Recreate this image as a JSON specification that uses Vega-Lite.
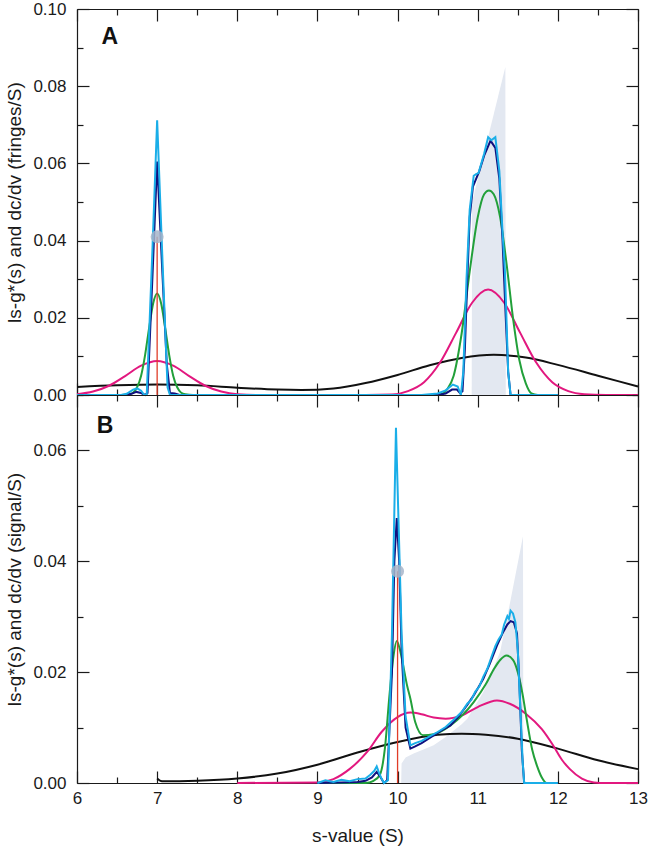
{
  "$schema": "https://vega.github.io/schema/vega-lite/v6.json",
  "padding": {"left": 5, "top": 0, "right": 0, "bottom": 5},
  "spacing": 0,
  "bounds": "flush",
  "background": "white",
  "datasets": {
    "shadeA": [{"s":10.925,"v":0},{"s":10.93,"v":0.050},{"s":11.345,"v":0.085},{"s":11.35,"v":0}],
    "shadeB": [{"s":10.045,"v":0},{"s":10.05,"v":0.0035},{"s":10.1,"v":0.0046},{"s":10.2,"v":0.0053},{"s":10.3,"v":0.0059},{"s":10.45,"v":0.0068},{"s":10.6,"v":0.0083},{"s":10.8,"v":0.0106},{"s":10.87,"v":0.0116},{"s":11.07,"v":0.0164},{"s":11.28,"v":0.0237},{"s":11.41,"v":0.033},{"s":11.565,"v":0.0445},{"s":11.57,"v":0}],
    "marks": [{"panel":"A","s":7.0,"v":0.041},{"panel":"B","s":10.0,"v":0.0382}],
    "curves": [
      {"panel":"A","series":"black","s":6.0,"v":0.0021},{"panel":"A","series":"black","s":6.5,"v":0.0025},{"panel":"A","series":"black","s":7.0,"v":0.0027},{"panel":"A","series":"black","s":7.5,"v":0.0025},{"panel":"A","series":"black","s":8.0,"v":0.0019},{"panel":"A","series":"black","s":8.5,"v":0.0014},{"panel":"A","series":"black","s":8.8,"v":0.0013},{"panel":"A","series":"black","s":9.2,"v":0.0017},{"panel":"A","series":"black","s":9.6,"v":0.0031},{"panel":"A","series":"black","s":10.0,"v":0.0052},{"panel":"A","series":"black","s":10.4,"v":0.0077},{"panel":"A","series":"black","s":10.8,"v":0.0096},{"panel":"A","series":"black","s":11.2,"v":0.0104},{"panel":"A","series":"black","s":11.6,"v":0.0097},{"panel":"A","series":"black","s":12.0,"v":0.0078},{"panel":"A","series":"black","s":12.5,"v":0.0050},{"panel":"A","series":"black","s":13.0,"v":0.0022},

      {"panel":"A","series":"magenta","s":6.0,"v":0.0002},{"panel":"A","series":"magenta","s":6.2,"v":0.0009},{"panel":"A","series":"magenta","s":6.4,"v":0.0024},{"panel":"A","series":"magenta","s":6.6,"v":0.0049},{"panel":"A","series":"magenta","s":6.8,"v":0.0076},{"panel":"A","series":"magenta","s":7.0,"v":0.0088},{"panel":"A","series":"magenta","s":7.2,"v":0.0076},{"panel":"A","series":"magenta","s":7.4,"v":0.0049},{"panel":"A","series":"magenta","s":7.6,"v":0.0024},{"panel":"A","series":"magenta","s":7.8,"v":0.0009},{"panel":"A","series":"magenta","s":8.0,"v":0.0002},{"panel":"A","series":"magenta","s":8.3,"v":0.0},{"panel":"A","series":"magenta","s":9.6,"v":0.0},{"panel":"A","series":"magenta","s":9.93,"v":0.0001},{"panel":"A","series":"magenta","s":10.13,"v":0.0010},{"panel":"A","series":"magenta","s":10.33,"v":0.0033},{"panel":"A","series":"magenta","s":10.53,"v":0.0084},{"panel":"A","series":"magenta","s":10.73,"v":0.0161},{"panel":"A","series":"magenta","s":10.93,"v":0.0239},{"panel":"A","series":"magenta","s":11.13,"v":0.0273},{"panel":"A","series":"magenta","s":11.33,"v":0.0239},{"panel":"A","series":"magenta","s":11.53,"v":0.0161},{"panel":"A","series":"magenta","s":11.73,"v":0.0084},{"panel":"A","series":"magenta","s":11.93,"v":0.0033},{"panel":"A","series":"magenta","s":12.13,"v":0.0010},{"panel":"A","series":"magenta","s":12.33,"v":0.0002},{"panel":"A","series":"magenta","s":12.6,"v":0.0},{"panel":"A","series":"magenta","s":13.0,"v":0.0},

      {"panel":"A","series":"green","s":6.0,"v":0},{"panel":"A","series":"green","s":6.55,"v":0},{"panel":"A","series":"green","s":6.65,"v":0.0002},{"panel":"A","series":"green","s":6.7,"v":0.0006},{"panel":"A","series":"green","s":6.75,"v":0.0020},{"panel":"A","series":"green","s":6.8,"v":0.0050},{"panel":"A","series":"green","s":6.85,"v":0.0104},{"panel":"A","series":"green","s":6.9,"v":0.0174},{"panel":"A","series":"green","s":6.95,"v":0.0237},{"panel":"A","series":"green","s":7.0,"v":0.0263},{"panel":"A","series":"green","s":7.05,"v":0.0237},{"panel":"A","series":"green","s":7.1,"v":0.0174},{"panel":"A","series":"green","s":7.15,"v":0.0104},{"panel":"A","series":"green","s":7.2,"v":0.0050},{"panel":"A","series":"green","s":7.25,"v":0.0020},{"panel":"A","series":"green","s":7.3,"v":0.0006},{"panel":"A","series":"green","s":7.35,"v":0.0002},{"panel":"A","series":"green","s":7.45,"v":0},{"panel":"A","series":"green","s":10.45,"v":0},{"panel":"A","series":"green","s":10.55,"v":0.0003},{"panel":"A","series":"green","s":10.62,"v":0.0015},{"panel":"A","series":"green","s":10.7,"v":0.005},{"panel":"A","series":"green","s":10.8,"v":0.016},{"panel":"A","series":"green","s":10.9,"v":0.032},{"panel":"A","series":"green","s":11.0,"v":0.046},{"panel":"A","series":"green","s":11.08,"v":0.052},{"panel":"A","series":"green","s":11.14,"v":0.053},{"panel":"A","series":"green","s":11.2,"v":0.052},{"panel":"A","series":"green","s":11.28,"v":0.046},{"panel":"A","series":"green","s":11.36,"v":0.034},{"panel":"A","series":"green","s":11.44,"v":0.020},{"panel":"A","series":"green","s":11.52,"v":0.009},{"panel":"A","series":"green","s":11.6,"v":0.003},{"panel":"A","series":"green","s":11.67,"v":0.0004},{"panel":"A","series":"green","s":11.75,"v":0},{"panel":"A","series":"green","s":12.0,"v":0},

      {"panel":"A","series":"navy","s":6.0,"v":0},{"panel":"A","series":"navy","s":6.6,"v":0},{"panel":"A","series":"navy","s":6.68,"v":0.0003},{"panel":"A","series":"navy","s":6.74,"v":0.0008},{"panel":"A","series":"navy","s":6.8,"v":0.0005},{"panel":"A","series":"navy","s":6.85,"v":0},{"panel":"A","series":"navy","s":6.88,"v":0.0005},{"panel":"A","series":"navy","s":6.94,"v":0.030},{"panel":"A","series":"navy","s":7.0,"v":0.0605},{"panel":"A","series":"navy","s":7.06,"v":0.034},{"panel":"A","series":"navy","s":7.12,"v":0.008},{"panel":"A","series":"navy","s":7.16,"v":0.0005},{"panel":"A","series":"navy","s":7.22,"v":0.0004},{"panel":"A","series":"navy","s":7.28,"v":0},{"panel":"A","series":"navy","s":10.5,"v":0},{"panel":"A","series":"navy","s":10.6,"v":0.0004},{"panel":"A","series":"navy","s":10.68,"v":0.0014},{"panel":"A","series":"navy","s":10.74,"v":0.0014},{"panel":"A","series":"navy","s":10.78,"v":0.0005},{"panel":"A","series":"navy","s":10.81,"v":0.001},{"panel":"A","series":"navy","s":10.84,"v":0.012},{"panel":"A","series":"navy","s":10.87,"v":0.030},{"panel":"A","series":"navy","s":10.9,"v":0.046},{"panel":"A","series":"navy","s":10.94,"v":0.054},{"panel":"A","series":"navy","s":10.98,"v":0.056},{"panel":"A","series":"navy","s":11.02,"v":0.058},{"panel":"A","series":"navy","s":11.08,"v":0.062},{"panel":"A","series":"navy","s":11.16,"v":0.0659},{"panel":"A","series":"navy","s":11.22,"v":0.064},{"panel":"A","series":"navy","s":11.27,"v":0.056},{"panel":"A","series":"navy","s":11.31,"v":0.040},{"panel":"A","series":"navy","s":11.35,"v":0.020},{"panel":"A","series":"navy","s":11.38,"v":0.006},{"panel":"A","series":"navy","s":11.41,"v":0},{"panel":"A","series":"navy","s":12.0,"v":0},

      {"panel":"A","series":"cyan","s":6.0,"v":0},{"panel":"A","series":"cyan","s":6.55,"v":0},{"panel":"A","series":"cyan","s":6.62,"v":0.0003},{"panel":"A","series":"cyan","s":6.7,"v":0.0014},{"panel":"A","series":"cyan","s":6.75,"v":0.0017},{"panel":"A","series":"cyan","s":6.8,"v":0.0011},{"panel":"A","series":"cyan","s":6.84,"v":0},{"panel":"A","series":"cyan","s":6.87,"v":0},{"panel":"A","series":"cyan","s":6.94,"v":0.037},{"panel":"A","series":"cyan","s":7.0,"v":0.0712},{"panel":"A","series":"cyan","s":7.07,"v":0.033},{"panel":"A","series":"cyan","s":7.13,"v":0.002},{"panel":"A","series":"cyan","s":7.16,"v":0},{"panel":"A","series":"cyan","s":10.3,"v":0},{"panel":"A","series":"cyan","s":10.5,"v":0.0004},{"panel":"A","series":"cyan","s":10.6,"v":0.0012},{"panel":"A","series":"cyan","s":10.69,"v":0.0027},{"panel":"A","series":"cyan","s":10.75,"v":0.0022},{"panel":"A","series":"cyan","s":10.79,"v":0},{"panel":"A","series":"cyan","s":10.82,"v":0.006},{"panel":"A","series":"cyan","s":10.86,"v":0.030},{"panel":"A","series":"cyan","s":10.9,"v":0.048},{"panel":"A","series":"cyan","s":10.95,"v":0.0568},{"panel":"A","series":"cyan","s":10.98,"v":0.0572},{"panel":"A","series":"cyan","s":11.01,"v":0.0575},{"panel":"A","series":"cyan","s":11.08,"v":0.0625},{"panel":"A","series":"cyan","s":11.13,"v":0.0668},{"panel":"A","series":"cyan","s":11.17,"v":0.066},{"panel":"A","series":"cyan","s":11.22,"v":0.0668},{"panel":"A","series":"cyan","s":11.27,"v":0.058},{"panel":"A","series":"cyan","s":11.31,"v":0.042},{"panel":"A","series":"cyan","s":11.34,"v":0.032},{"panel":"A","series":"cyan","s":11.38,"v":0.006},{"panel":"A","series":"cyan","s":11.41,"v":0},{"panel":"A","series":"cyan","s":12.0,"v":0},

      {"panel":"B","series":"black","s":7.0,"v":0.0008},{"panel":"B","series":"black","s":7.06,"v":0.0003},{"panel":"B","series":"black","s":7.5,"v":0.0004},{"panel":"B","series":"black","s":8.0,"v":0.0008},{"panel":"B","series":"black","s":8.5,"v":0.0017},{"panel":"B","series":"black","s":9.0,"v":0.0033},{"panel":"B","series":"black","s":9.5,"v":0.0055},{"panel":"B","series":"black","s":10.0,"v":0.0074},{"panel":"B","series":"black","s":10.5,"v":0.0087},{"panel":"B","series":"black","s":10.8,"v":0.0089},{"panel":"B","series":"black","s":11.1,"v":0.0087},{"panel":"B","series":"black","s":11.5,"v":0.0080},{"panel":"B","series":"black","s":12.0,"v":0.0062},{"panel":"B","series":"black","s":12.5,"v":0.0041},{"panel":"B","series":"black","s":13.0,"v":0.0025},

      {"panel":"B","series":"magenta","s":8.0,"v":0},{"panel":"B","series":"magenta","s":9.0,"v":0.0001},{"panel":"B","series":"magenta","s":9.2,"v":0.0007},{"panel":"B","series":"magenta","s":9.4,"v":0.0025},{"panel":"B","series":"magenta","s":9.62,"v":0.0056},{"panel":"B","series":"magenta","s":9.8,"v":0.0092},{"panel":"B","series":"magenta","s":10.0,"v":0.0119},{"panel":"B","series":"magenta","s":10.16,"v":0.0127},{"panel":"B","series":"magenta","s":10.3,"v":0.0124},{"panel":"B","series":"magenta","s":10.45,"v":0.0118},{"panel":"B","series":"magenta","s":10.6,"v":0.0116},{"panel":"B","series":"magenta","s":10.8,"v":0.0122},{"panel":"B","series":"magenta","s":11.0,"v":0.0137},{"panel":"B","series":"magenta","s":11.24,"v":0.0149},{"panel":"B","series":"magenta","s":11.4,"v":0.0143},{"panel":"B","series":"magenta","s":11.6,"v":0.0125},{"panel":"B","series":"magenta","s":11.8,"v":0.0097},{"panel":"B","series":"magenta","s":11.94,"v":0.0068},{"panel":"B","series":"magenta","s":12.05,"v":0.0042},{"panel":"B","series":"magenta","s":12.15,"v":0.0025},{"panel":"B","series":"magenta","s":12.3,"v":0.0008},{"panel":"B","series":"magenta","s":12.45,"v":0.0001},{"panel":"B","series":"magenta","s":12.6,"v":0},{"panel":"B","series":"magenta","s":13.0,"v":0},

      {"panel":"B","series":"green","s":9.0,"v":0},{"panel":"B","series":"green","s":9.6,"v":0},{"panel":"B","series":"green","s":9.7,"v":0.0004},{"panel":"B","series":"green","s":9.78,"v":0.0015},{"panel":"B","series":"green","s":9.84,"v":0.006},{"panel":"B","series":"green","s":9.9,"v":0.016},{"panel":"B","series":"green","s":9.95,"v":0.023},{"panel":"B","series":"green","s":9.99,"v":0.0256},{"panel":"B","series":"green","s":10.03,"v":0.024},{"panel":"B","series":"green","s":10.07,"v":0.0212},{"panel":"B","series":"green","s":10.12,"v":0.0175},{"panel":"B","series":"green","s":10.16,"v":0.0152},{"panel":"B","series":"green","s":10.22,"v":0.011},{"panel":"B","series":"green","s":10.32,"v":0.0086},{"panel":"B","series":"green","s":10.45,"v":0.0088},{"panel":"B","series":"green","s":10.66,"v":0.0104},{"panel":"B","series":"green","s":10.95,"v":0.0146},{"panel":"B","series":"green","s":11.1,"v":0.0178},{"panel":"B","series":"green","s":11.2,"v":0.0205},{"panel":"B","series":"green","s":11.28,"v":0.0222},{"panel":"B","series":"green","s":11.36,"v":0.023},{"panel":"B","series":"green","s":11.44,"v":0.0222},{"panel":"B","series":"green","s":11.5,"v":0.020},{"panel":"B","series":"green","s":11.56,"v":0.016},{"panel":"B","series":"green","s":11.61,"v":0.0116},{"panel":"B","series":"green","s":11.68,"v":0.006},{"panel":"B","series":"green","s":11.74,"v":0.0031},{"panel":"B","series":"green","s":11.8,"v":0.001},{"panel":"B","series":"green","s":11.86,"v":0},{"panel":"B","series":"green","s":12.0,"v":0},

      {"panel":"B","series":"navy","s":9.0,"v":0},{"panel":"B","series":"navy","s":9.3,"v":0.0001},{"panel":"B","series":"navy","s":9.5,"v":0.0002},{"panel":"B","series":"navy","s":9.6,"v":0.0004},{"panel":"B","series":"navy","s":9.68,"v":0.0010},{"panel":"B","series":"navy","s":9.74,"v":0.0020},{"panel":"B","series":"navy","s":9.79,"v":0.0010},{"panel":"B","series":"navy","s":9.83,"v":0},{"panel":"B","series":"navy","s":9.87,"v":0.0005},{"panel":"B","series":"navy","s":9.93,"v":0.020},{"panel":"B","series":"navy","s":9.96,"v":0.040},{"panel":"B","series":"navy","s":9.99,"v":0.0478},{"panel":"B","series":"navy","s":10.02,"v":0.040},{"panel":"B","series":"navy","s":10.05,"v":0.024},{"panel":"B","series":"navy","s":10.1,"v":0.010},{"panel":"B","series":"navy","s":10.16,"v":0.0062},{"panel":"B","series":"navy","s":10.22,"v":0.0066},{"panel":"B","series":"navy","s":10.3,"v":0.0072},{"panel":"B","series":"navy","s":10.45,"v":0.0086},{"panel":"B","series":"navy","s":10.55,"v":0.0095},{"panel":"B","series":"navy","s":10.66,"v":0.0104},{"panel":"B","series":"navy","s":10.75,"v":0.0118},{"panel":"B","series":"navy","s":10.865,"v":0.014},{"panel":"B","series":"navy","s":10.95,"v":0.0158},{"panel":"B","series":"navy","s":11.07,"v":0.0188},{"panel":"B","series":"navy","s":11.15,"v":0.0215},{"panel":"B","series":"navy","s":11.24,"v":0.0248},{"panel":"B","series":"navy","s":11.32,"v":0.0273},{"panel":"B","series":"navy","s":11.37,"v":0.0286},{"panel":"B","series":"navy","s":11.41,"v":0.0292},{"panel":"B","series":"navy","s":11.45,"v":0.029},{"panel":"B","series":"navy","s":11.49,"v":0.027},{"panel":"B","series":"navy","s":11.52,"v":0.018},{"panel":"B","series":"navy","s":11.55,"v":0.006},{"panel":"B","series":"navy","s":11.58,"v":0},{"panel":"B","series":"navy","s":12.0,"v":0},

      {"panel":"B","series":"cyan","s":9.0,"v":0},{"panel":"B","series":"cyan","s":9.1,"v":0.0005},{"panel":"B","series":"cyan","s":9.2,"v":0.0002},{"panel":"B","series":"cyan","s":9.3,"v":0.0006},{"panel":"B","series":"cyan","s":9.4,"v":0.0003},{"panel":"B","series":"cyan","s":9.5,"v":0.0007},{"panel":"B","series":"cyan","s":9.6,"v":0.0008},{"panel":"B","series":"cyan","s":9.66,"v":0.0015},{"panel":"B","series":"cyan","s":9.71,"v":0.0022},{"panel":"B","series":"cyan","s":9.74,"v":0.0030},{"panel":"B","series":"cyan","s":9.77,"v":0.0018},{"panel":"B","series":"cyan","s":9.8,"v":0.0008},{"panel":"B","series":"cyan","s":9.83,"v":0},{"panel":"B","series":"cyan","s":9.88,"v":0.0005},{"panel":"B","series":"cyan","s":9.93,"v":0.027},{"panel":"B","series":"cyan","s":9.98,"v":0.0641},{"panel":"B","series":"cyan","s":10.05,"v":0.027},{"panel":"B","series":"cyan","s":10.1,"v":0.012},{"panel":"B","series":"cyan","s":10.16,"v":0.0068},{"panel":"B","series":"cyan","s":10.22,"v":0.0072},{"panel":"B","series":"cyan","s":10.3,"v":0.0076},{"panel":"B","series":"cyan","s":10.4,"v":0.0084},{"panel":"B","series":"cyan","s":10.5,"v":0.0092},{"panel":"B","series":"cyan","s":10.6,"v":0.0101},{"panel":"B","series":"cyan","s":10.7,"v":0.0114},{"panel":"B","series":"cyan","s":10.8,"v":0.0128},{"panel":"B","series":"cyan","s":10.87,"v":0.0143},{"panel":"B","series":"cyan","s":10.92,"v":0.0150},{"panel":"B","series":"cyan","s":10.97,"v":0.0165},{"panel":"B","series":"cyan","s":11.02,"v":0.0174},{"panel":"B","series":"cyan","s":11.07,"v":0.0192},{"panel":"B","series":"cyan","s":11.12,"v":0.0206},{"panel":"B","series":"cyan","s":11.18,"v":0.0231},{"panel":"B","series":"cyan","s":11.22,"v":0.0247},{"panel":"B","series":"cyan","s":11.26,"v":0.0259},{"panel":"B","series":"cyan","s":11.3,"v":0.0268},{"panel":"B","series":"cyan","s":11.33,"v":0.0286},{"panel":"B","series":"cyan","s":11.37,"v":0.0301},{"panel":"B","series":"cyan","s":11.39,"v":0.0296},{"panel":"B","series":"cyan","s":11.41,"v":0.0311},{"panel":"B","series":"cyan","s":11.44,"v":0.0306},{"panel":"B","series":"cyan","s":11.47,"v":0.029},{"panel":"B","series":"cyan","s":11.5,"v":0.024},{"panel":"B","series":"cyan","s":11.53,"v":0.014},{"panel":"B","series":"cyan","s":11.56,"v":0.004},{"panel":"B","series":"cyan","s":11.58,"v":0},{"panel":"B","series":"cyan","s":12.0,"v":0}
    ]
  },
  "vconcat": [
    {
      "width": 561,
      "height": 386,
      "resolve": {"axis": {"x": "independent", "y": "independent"}},
      "layer": [
        {
          "data": {"name": "shadeA"},
          "mark": {"type": "area", "color": "#e3e8f1", "interpolate": "linear"},
          "encoding": {
            "x": {"field": "s", "type": "quantitative", "scale": {"domain": [6, 13]},
                  "axis": {"orient": "bottom", "values": [6,6.5,7,7.5,8,8.5,9,9.5,10,10.5,11,11.5,12,12.5,13], "labels": false, "title": null,
                           "tickSize": {"condition": {"test": "datum.value % 1 === 0", "value": -12}, "value": -6}}},
            "y": {"field": "v", "type": "quantitative", "scale": {"domain": [0, 0.1]},
                  "axis": {"orient": "left", "values": [0,0.01,0.02,0.03,0.04,0.05,0.06,0.07,0.08,0.09,0.1], "format": ".2f",
                           "labelExpr": "round(datum.value*100) % 2 === 0 ? datum.label : ''",
                           "title": "ls-g*(s) and dc/dv (fringes/S)", "titlePadding": 8, "labelPadding": 23,
                           "tickSize": {"condition": {"test": "round(datum.value*100) % 2 === 0", "value": -12}, "value": -6}}}
          }
        },
        {
          "data": {"name": "curves"},
          "transform": [{"filter": "datum.panel === 'A' && datum.series === 'black'"}],
          "mark": {"type": "line", "color": "#111111", "strokeWidth": 2, "interpolate": "monotone"},
          "encoding": {
            "x": {"field": "s", "type": "quantitative", "scale": {"domain": [6, 13]},
                  "axis": {"orient": "top", "values": [6,6.5,7,7.5,8,8.5,9,9.5,10,10.5,11,11.5,12,12.5,13], "labels": false, "title": null,
                           "tickSize": {"condition": {"test": "datum.value % 1 === 0", "value": -12}, "value": -6}}},
            "y": {"field": "v", "type": "quantitative", "scale": {"domain": [0, 0.1]},
                  "axis": {"orient": "right", "values": [0,0.01,0.02,0.03,0.04,0.05,0.06,0.07,0.08,0.09,0.1], "labels": false, "title": null,
                           "tickSize": {"condition": {"test": "round(datum.value*100) % 2 === 0", "value": -12}, "value": -6}}}
          }
        },
        {
          "data": {"name": "curves"},
          "transform": [{"filter": "datum.panel === 'A' && datum.series === 'magenta'"}],
          "mark": {"type": "line", "color": "#e2187f", "strokeWidth": 2, "interpolate": "monotone"},
          "encoding": {
            "x": {"field": "s", "type": "quantitative", "scale": {"domain": [6, 13]}, "axis": null},
            "y": {"field": "v", "type": "quantitative", "scale": {"domain": [0, 0.1]}, "axis": null}
          }
        },
        {
          "data": {"name": "curves"},
          "transform": [{"filter": "datum.panel === 'A' && datum.series === 'green'"}],
          "mark": {"type": "line", "color": "#22a03a", "strokeWidth": 2, "interpolate": "monotone"},
          "encoding": {
            "x": {"field": "s", "type": "quantitative", "scale": {"domain": [6, 13]}, "axis": null},
            "y": {"field": "v", "type": "quantitative", "scale": {"domain": [0, 0.1]}, "axis": null}
          }
        },
        {
          "data": {"name": "curves"},
          "transform": [{"filter": "datum.panel === 'A' && datum.series === 'navy'"}],
          "mark": {"type": "line", "color": "#10107e", "strokeWidth": 2, "interpolate": "linear"},
          "encoding": {
            "x": {"field": "s", "type": "quantitative", "scale": {"domain": [6, 13]}, "axis": null},
            "y": {"field": "v", "type": "quantitative", "scale": {"domain": [0, 0.1]}, "axis": null}
          }
        },
        {
          "data": {"name": "curves"},
          "transform": [{"filter": "datum.panel === 'A' && datum.series === 'cyan'"}],
          "mark": {"type": "line", "color": "#1aaee8", "strokeWidth": 2, "interpolate": "linear"},
          "encoding": {
            "x": {"field": "s", "type": "quantitative", "scale": {"domain": [6, 13]}, "axis": null},
            "y": {"field": "v", "type": "quantitative", "scale": {"domain": [0, 0.1]}, "axis": null}
          }
        },
        {
          "data": {"name": "marks"},
          "transform": [{"filter": "datum.panel === 'A'"}],
          "mark": {"type": "rule", "color": "#e03c28", "strokeWidth": 1.3},
          "encoding": {
            "x": {"field": "s", "type": "quantitative", "scale": {"domain": [6, 13]}, "axis": null},
            "y": {"field": "v", "type": "quantitative", "scale": {"domain": [0, 0.1]}, "axis": null},
            "y2": {"datum": 0}
          }
        },
        {
          "data": {"name": "marks"},
          "transform": [{"filter": "datum.panel === 'A'"}],
          "mark": {"type": "circle", "color": "#a7b5ca", "opacity": 0.85, "size": 170},
          "encoding": {
            "x": {"field": "s", "type": "quantitative", "scale": {"domain": [6, 13]}, "axis": null},
            "y": {"field": "v", "type": "quantitative", "scale": {"domain": [0, 0.1]}, "axis": null}
          }
        },
        {
          "data": {"values": [{}]},
          "mark": {"type": "text", "text": "A", "font": "Liberation Sans", "fontSize": 23, "fontWeight": "bold", "color": "#111111", "align": "center", "baseline": "middle"},
          "encoding": {
            "x": {"datum": 6.41, "type": "quantitative", "scale": {"domain": [6, 13]}, "axis": null},
            "y": {"datum": 0.0927, "type": "quantitative", "scale": {"domain": [0, 0.1]}, "axis": null}
          }
        }
      ]
    },
    {
      "width": 561,
      "height": 388,
      "resolve": {"axis": {"x": "independent", "y": "independent"}},
      "layer": [
        {
          "data": {"name": "shadeB"},
          "mark": {"type": "area", "color": "#e3e8f1", "interpolate": "linear"},
          "encoding": {
            "x": {"field": "s", "type": "quantitative", "scale": {"domain": [6, 13]},
                  "axis": {"orient": "bottom", "values": [6,6.5,7,7.5,8,8.5,9,9.5,10,10.5,11,11.5,12,12.5,13], "format": ".0f",
                           "labelExpr": "datum.value % 1 === 0 ? datum.label : ''", "labelPadding": 19,
                           "title": "s-value (S)", "titlePadding": 14,
                           "tickSize": {"condition": {"test": "datum.value % 1 === 0", "value": -12}, "value": -6}}},
            "y": {"field": "v", "type": "quantitative", "scale": {"domain": [0, 0.07]},
                  "axis": {"orient": "left", "values": [0,0.01,0.02,0.03,0.04,0.05,0.06,0.07], "format": ".2f",
                           "labelExpr": "round(datum.value*100) % 2 === 0 ? datum.label : ''",
                           "title": "ls-g*(s) and dc/dv (signal/S)", "titlePadding": 8, "labelPadding": 23,
                           "tickSize": {"condition": {"test": "round(datum.value*100) % 2 === 0", "value": -12}, "value": -6}}}
          }
        },
        {
          "data": {"name": "curves"},
          "transform": [{"filter": "datum.panel === 'B' && datum.series === 'black'"}],
          "mark": {"type": "line", "color": "#111111", "strokeWidth": 2, "interpolate": "monotone"},
          "encoding": {
            "x": {"field": "s", "type": "quantitative", "scale": {"domain": [6, 13]},
                  "axis": {"orient": "top", "values": [6,6.5,7,7.5,8,8.5,9,9.5,10,10.5,11,11.5,12,12.5,13], "labels": false, "title": null,
                           "tickSize": {"condition": {"test": "datum.value % 1 === 0", "value": -12}, "value": -6}}},
            "y": {"field": "v", "type": "quantitative", "scale": {"domain": [0, 0.07]},
                  "axis": {"orient": "right", "values": [0,0.01,0.02,0.03,0.04,0.05,0.06,0.07], "labels": false, "title": null,
                           "tickSize": {"condition": {"test": "round(datum.value*100) % 2 === 0", "value": -12}, "value": -6}}}
          }
        },
        {
          "data": {"name": "curves"},
          "transform": [{"filter": "datum.panel === 'B' && datum.series === 'magenta'"}],
          "mark": {"type": "line", "color": "#e2187f", "strokeWidth": 2, "interpolate": "monotone"},
          "encoding": {
            "x": {"field": "s", "type": "quantitative", "scale": {"domain": [6, 13]}, "axis": null},
            "y": {"field": "v", "type": "quantitative", "scale": {"domain": [0, 0.07]}, "axis": null}
          }
        },
        {
          "data": {"name": "curves"},
          "transform": [{"filter": "datum.panel === 'B' && datum.series === 'green'"}],
          "mark": {"type": "line", "color": "#22a03a", "strokeWidth": 2, "interpolate": "monotone"},
          "encoding": {
            "x": {"field": "s", "type": "quantitative", "scale": {"domain": [6, 13]}, "axis": null},
            "y": {"field": "v", "type": "quantitative", "scale": {"domain": [0, 0.07]}, "axis": null}
          }
        },
        {
          "data": {"name": "curves"},
          "transform": [{"filter": "datum.panel === 'B' && datum.series === 'navy'"}],
          "mark": {"type": "line", "color": "#10107e", "strokeWidth": 2, "interpolate": "linear"},
          "encoding": {
            "x": {"field": "s", "type": "quantitative", "scale": {"domain": [6, 13]}, "axis": null},
            "y": {"field": "v", "type": "quantitative", "scale": {"domain": [0, 0.07]}, "axis": null}
          }
        },
        {
          "data": {"name": "curves"},
          "transform": [{"filter": "datum.panel === 'B' && datum.series === 'cyan'"}],
          "mark": {"type": "line", "color": "#1aaee8", "strokeWidth": 2, "interpolate": "linear"},
          "encoding": {
            "x": {"field": "s", "type": "quantitative", "scale": {"domain": [6, 13]}, "axis": null},
            "y": {"field": "v", "type": "quantitative", "scale": {"domain": [0, 0.07]}, "axis": null}
          }
        },
        {
          "data": {"name": "marks"},
          "transform": [{"filter": "datum.panel === 'B'"}],
          "mark": {"type": "rule", "color": "#e03c28", "strokeWidth": 1.3},
          "encoding": {
            "x": {"field": "s", "type": "quantitative", "scale": {"domain": [6, 13]}, "axis": null},
            "y": {"field": "v", "type": "quantitative", "scale": {"domain": [0, 0.07]}, "axis": null},
            "y2": {"datum": 0}
          }
        },
        {
          "data": {"name": "marks"},
          "transform": [{"filter": "datum.panel === 'B'"}],
          "mark": {"type": "circle", "color": "#a7b5ca", "opacity": 0.85, "size": 170},
          "encoding": {
            "x": {"field": "s", "type": "quantitative", "scale": {"domain": [6, 13]}, "axis": null},
            "y": {"field": "v", "type": "quantitative", "scale": {"domain": [0, 0.07]}, "axis": null}
          }
        },
        {
          "data": {"values": [{}]},
          "mark": {"type": "text", "text": "B", "font": "Liberation Sans", "fontSize": 23, "fontWeight": "bold", "color": "#111111", "align": "center", "baseline": "middle"},
          "encoding": {
            "x": {"datum": 6.35, "type": "quantitative", "scale": {"domain": [6, 13]}, "axis": null},
            "y": {"datum": 0.0644, "type": "quantitative", "scale": {"domain": [0, 0.07]}, "axis": null}
          }
        }
      ]
    }
  ],
  "config": {
    "view": {"stroke": null},
    "font": "Liberation Sans",
    "axis": {
      "grid": false,
      "domainColor": "#1a1a1a",
      "domainWidth": 1.2,
      "tickColor": "#1a1a1a",
      "tickWidth": 1.2,
      "labelFont": "Liberation Sans",
      "labelFontSize": 17,
      "labelColor": "#1a1a1a",
      "titleFont": "Liberation Sans",
      "titleFontSize": 19,
      "titleFontWeight": "normal",
      "titleColor": "#1a1a1a",
      "labelOverlap": false,
      "labelFlush": false,
      "labelBound": false,
      "zindex": 1
    }
  }
}
